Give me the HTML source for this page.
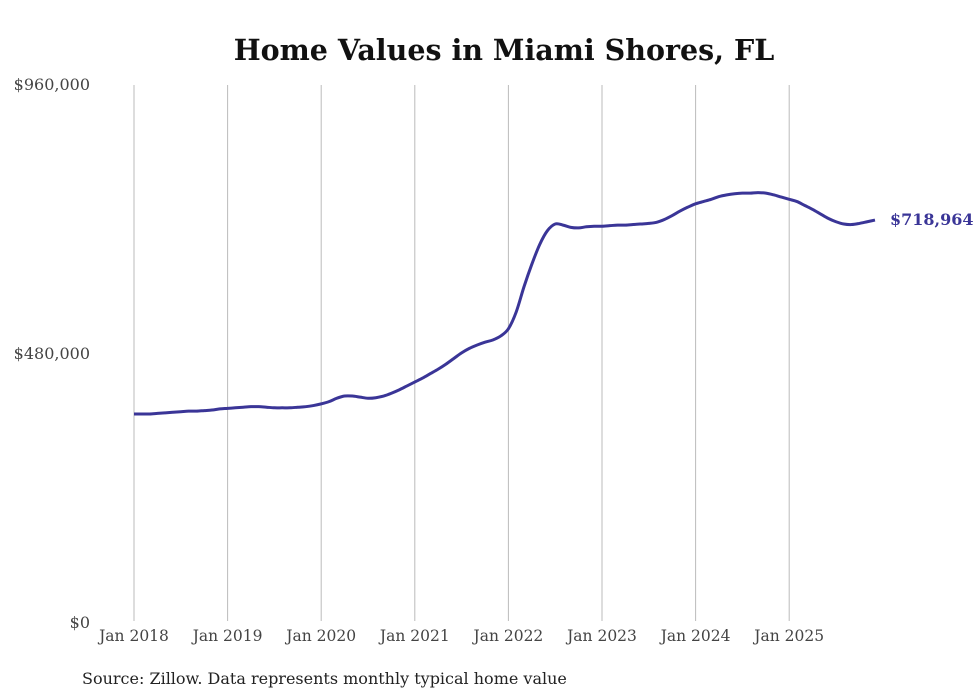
<!DOCTYPE html>
<html><head><meta charset="utf-8"><style>
html,body{margin:0;padding:0;background:#fff;}
svg{display:block;font-family:"DejaVu Serif","Liberation Serif",serif;}
</style></head><body>
<svg id="chart" width="980" height="699" viewBox="0 0 980 699">
<text x="504" y="60" text-anchor="middle" font-size="28.5" font-weight="bold" fill="#111">Home Values in Miami Shores, FL</text>
<g id="grid"></g>
<g id="yaxis"></g>
<g id="xaxis"></g>
<path id="line" fill="none" stroke="#3a3597" stroke-width="3" stroke-linejoin="round"></path>
<text id="endlabel" font-size="16" font-weight="bold" fill="#3a3597"></text>
<text x="82" y="684" font-size="16" fill="#222">Source: Zillow. Data represents monthly typical home value</text>
</svg>
<script>
const startYear = 2018;
const values = [
373,373,373,374,375,376,377,378,378,379,380,382,
383,384,385,386,386,385,384,384,384,385,386,388,
391,395,401,405,405,403,401,402,405,410,416,423,
430,437,445,453,462,472,482,490,496,501,505,512,
525,555,600,640,675,700,712,710,706,705,707,708,
708,709,710,710,711,712,713,715,720,727,735,742,
748,752,756,761,764,766,767,767,768,767,764,760,
756,752,745,738,730,722,716,712,711,713,716,718.964
];
const yTicks = [0, 480000, 960000];
const yTickLabels = ["$0", "$480,000", "$960,000"];
const xYears = [2018,2019,2020,2021,2022,2023,2024,2025];
const endLabel = "$718,964";

const NS = "http://www.w3.org/2000/svg";
const x0 = 134, yearW = 93.6;
function xScale(monthIndex){ return x0 + monthIndex/12*yearW; }
function yScale(v){ return 623 - v/960000*538; }
const grid = document.getElementById('grid');
const xa = document.getElementById('xaxis');
const ya = document.getElementById('yaxis');
xYears.forEach(yr=>{
  const x = xScale((yr-startYear)*12);
  const l = document.createElementNS(NS,'line');
  
  
  l.setAttribute('x1',x);l.setAttribute('x2',x);l.setAttribute('y1',85);l.setAttribute('y2',621);
  l.setAttribute('stroke','#bbb');l.setAttribute('stroke-width','1');
  grid.appendChild(l);
  const t = document.createElementNS(NS,'text');
  
  
  t.setAttribute('x',x);t.setAttribute('y',641);t.setAttribute('text-anchor','middle');
  t.setAttribute('font-size','15.5');t.setAttribute('fill','#444');
  t.textContent='Jan '+yr;
  xa.appendChild(t);
});
yTicks.forEach((v,i)=>{
  const t = document.createElementNS(NS,'text');
  
  
  t.setAttribute('x',90);t.setAttribute('y',yScale(v)+5);t.setAttribute('text-anchor','end');
  t.setAttribute('font-size','16');t.setAttribute('fill','#444');
  t.textContent=yTickLabels[i];
  ya.appendChild(t);
});
const pts = values.map((v,i)=>[xScale(i), yScale(v*1000)]);
let d = 'M'+pts[0][0].toFixed(2)+','+pts[0][1].toFixed(2);
for(let i=0;i<pts.length-1;i++){
  const p0=pts[Math.max(0,i-1)],p1=pts[i],p2=pts[i+1],p3=pts[Math.min(pts.length-1,i+2)];
  const c1=[p1[0]+(p2[0]-p0[0])/6,p1[1]+(p2[1]-p0[1])/6];
  const c2=[p2[0]-(p3[0]-p1[0])/6,p2[1]-(p3[1]-p1[1])/6];
  d+=' C'+c1[0].toFixed(2)+','+c1[1].toFixed(2)+' '+c2[0].toFixed(2)+','+c2[1].toFixed(2)+' '+p2[0].toFixed(2)+','+p2[1].toFixed(2);
}
document.getElementById('line').setAttribute('d',d);
const last = pts[pts.length-1];
const el = document.getElementById('endlabel');
el.setAttribute('x', last[0]+15); el.setAttribute('y', last[1]+5);
el.textContent = endLabel;
</script>
</body></html>
